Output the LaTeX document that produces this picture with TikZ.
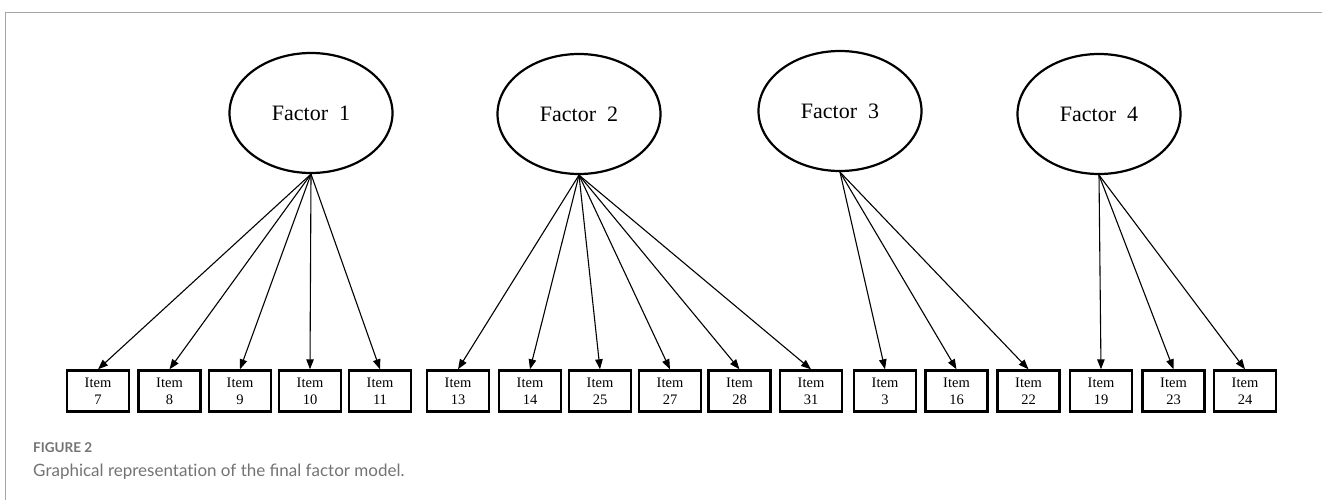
\documentclass[tikz,border=0pt]{standalone}
\usepackage{fontspec}
\setmainfont{Liberation Serif}
\newfontfamily\capfont{Lato}
\usetikzlibrary{shapes.geometric,arrows.meta}
\begin{document}
\begin{tikzpicture}[x=1pt,y=-1pt,
  factor/.style={draw,ellipse,line width=2.2pt,minimum width=163pt,minimum height=120pt,inner sep=0pt,font=\fontsize{22}{26}\selectfont},
  itembox/.style={draw,line width=2.4pt,minimum width=62pt,minimum height=41pt,inner sep=0pt,align=center,font=\fontsize{14.5}{17}\selectfont},
  load/.style={line width=1.1pt,-{Triangle[length=10pt,width=7.5pt]}},
  frameline/.style={draw=black!35,line width=1pt},
  capsmall/.style={anchor=base west,inner sep=0pt,text=black!55,font=\capfont\bfseries\fontsize{13.5}{15}\selectfont},
  capmain/.style={anchor=base west,inner sep=0pt,text=black!55,font=\capfont\fontsize{17}{20}\selectfont}]
\useasboundingbox (0,0) rectangle (1322,500);
\draw[frameline] (5,500) -- (5,12.5) -- (1322,12.5);

\node[factor] (f1) at (311,113) {Factor~~1};
\node[factor] (f2) at (579,114) {Factor~~2};
\node[factor] (f3) at (840,111) {Factor~~3};
\node[factor] (f4) at (1099,114) {Factor~~4};

\foreach \n/\x in {7/98,8/169.5,9/240,10/310,11/380,13/458,14/530,25/600,27/670,28/739.5,31/811,3/885,16/956.5,22/1028.5,19/1101,23/1173.5,24/1245}
  \node[itembox] (i\n) at (\x,391) {Item\\\n};

\foreach \n in {7,8,9,10,11} \draw[load] (f1.south) -- (i\n.north);
\foreach \n in {13,14,25,27,28,31} \draw[load] (f2.south) -- (i\n.north);
\foreach \n in {3,16,22} \draw[load] (f3.south) -- (i\n.north);
\foreach \n in {19,23,24} \draw[load] (f4.south) -- (i\n.north);

\node[capsmall] (cap1) at (33,452) {FIGURE 2};
\node[capmain] (cap2) at (33,476) {Graphical representat\kern0pt ion of the final factor model.};
\end{tikzpicture}
\end{document}
